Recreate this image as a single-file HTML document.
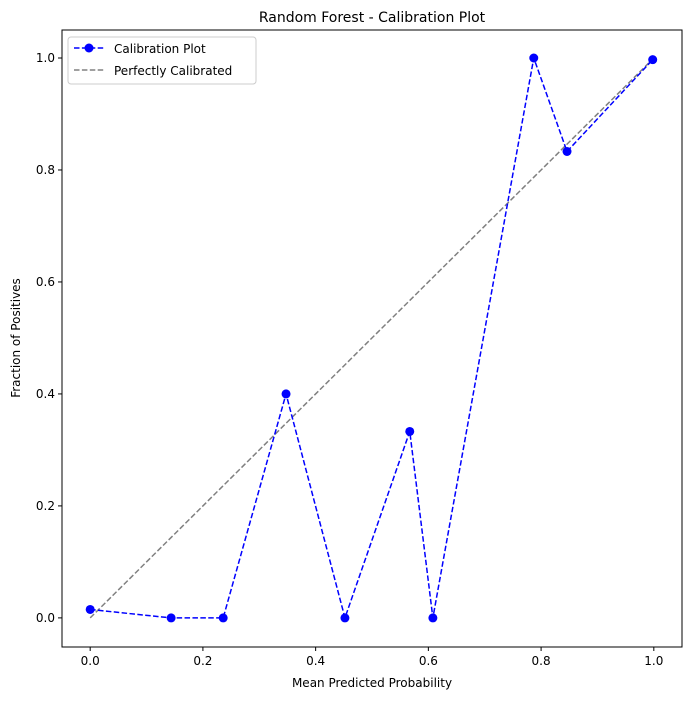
<!DOCTYPE html>
<html><head><meta charset="utf-8"><style>
body{margin:0;background:#fff;}
svg{font-family:"DejaVu Sans","Liberation Sans",sans-serif;}
</style></head><body>
<svg id="chart" width="691" height="699" xmlns="http://www.w3.org/2000/svg">
<rect width="691" height="699" fill="#fff"/>
<g id="plot"></g>
</svg>
<script>
const xValues=[0.0,0.1436,0.236,0.3475,0.452,0.567,0.608,0.787,0.846,0.998];
const yValues=[0.015,0.0,0.0,0.4,0.0,0.333,0.0,1.0,0.833,0.997];
const xTicks=[0.0,0.2,0.4,0.6,0.8,1.0];
const yTicks=[0.0,0.2,0.4,0.6,0.8,1.0];
const L=62,R=682,T=30,B=647;
const X0=-0.05,X1=1.05,Y0=-0.052,Y1=1.05;
const sx=v=>L+(v-X0)/(X1-X0)*(R-L);
const sy=v=>B-(v-Y0)/(Y1-Y0)*(B-T);
const NS="http://www.w3.org/2000/svg";
const g=document.getElementById('plot');
function mk(t,a,txt){const e=document.createElementNS(NS,t);for(const k in a)e.setAttribute(k,a[k]);if(txt!==undefined)e.textContent=txt;g.appendChild(e);return e;}
// perfect line
let e=mk('line',{x1:sx(0),y1:sy(0),x2:sx(1),y2:sy(1),stroke:'#808080','stroke-width':1.5,'stroke-dasharray':'5.5,2.4'});


// series
e=mk('polyline',{points:xValues.map((x,i)=>sx(x)+','+sy(yValues[i])).join(' '),fill:'none',stroke:'#0000ff','stroke-width':1.5,'stroke-dasharray':'5.5,2.4'});


xValues.forEach((x,i)=>{const c=mk('circle',{cx:sx(x),cy:sy(yValues[i]),r:4.5,fill:'#0000ff'});

});
// frame
e=mk('rect',{x:L,y:T,width:R-L,height:B-T,fill:'none',stroke:'#000','stroke-width':1});


xTicks.forEach(v=>{mk('line',{x1:sx(v),x2:sx(v),y1:B,y2:B+4,stroke:'#000'});
const t=mk('text',{x:sx(v),y:B+18,'font-size':12,'text-anchor':'middle'},v.toFixed(1));

});
yTicks.forEach(v=>{mk('line',{x1:L-4,x2:L,y1:sy(v),y2:sy(v),stroke:'#000'});
const t=mk('text',{x:L-7,y:sy(v)+4,'font-size':12,'text-anchor':'end'},v.toFixed(1));

});
</script>
<svg style="position:absolute;left:0;top:0" width="691" height="699" xmlns="http://www.w3.org/2000/svg">
<text x="372" y="22" font-size="14" text-anchor="middle" font-family="DejaVu Sans,sans-serif">Random Forest - Calibration Plot</text>
<text x="372" y="687" font-size="12" text-anchor="middle" font-family="DejaVu Sans,sans-serif">Mean Predicted Probability</text>
<text x="20" y="338" font-size="12" text-anchor="middle" transform="rotate(-90 20 338)" font-family="DejaVu Sans,sans-serif">Fraction of Positives</text>
<g>
<rect x="68" y="37" width="188" height="47" rx="3" fill="#fff" stroke="#ccc"/>
<line x1="74" y1="48" x2="104" y2="48" stroke="#00f" stroke-width="1.5" stroke-dasharray="5.5,2.4"/>
<circle cx="89" cy="48" r="4.5" fill="#00f"/>
<text x="114" y="53" font-size="12" font-family="DejaVu Sans,sans-serif">Calibration Plot</text>
<line x1="74" y1="70" x2="104" y2="70" stroke="#808080" stroke-width="1.5" stroke-dasharray="5.5,2.4"/>
<text x="114" y="75" font-size="12" font-family="DejaVu Sans,sans-serif">Perfectly Calibrated</text>
</g>
</svg>
</body></html>
